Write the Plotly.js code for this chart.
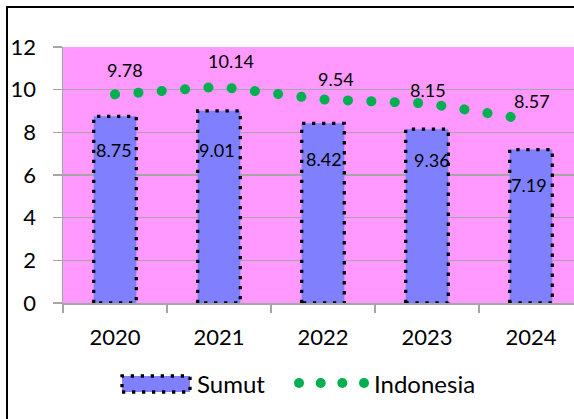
<!DOCTYPE html>
<html>
<head>
<meta charset="utf-8">
<script src="https://cdn.plot.ly/plotly-3.0.1.min.js"></script>
<style>
  html, body { margin: 0; padding: 0; overflow: hidden; background: #fff; }
  #chart { width: 574px; height: 419px; }
  /* Excel style dotted bar outline and round dots for the line */
  .bars .point path { stroke-dasharray: 3.3px 6.7px !important; }
  .scatterlayer .js-line { stroke-linecap: round !important; }
</style>
</head>
<body>
<div id="chart"></div>
<script>
const YEARS = ["2020", "2021", "2022", "2023", "2024"];
const SUMUT = [8.75, 9.01, 8.42, 8.15, 7.19];
const SUMUT_LABELS = ["8.75", "9.01", "8.42", "9.36", "7.19"];
const INDONESIA = [9.78, 10.14, 9.54, 9.36, 8.57];
const INDONESIA_LABELS = ["9.78", "10.14", "9.54", "8.15", "8.57"];
const Y_TICKS = [0, 2, 4, 6, 8, 10, 12];

const FONT = "Lato, 'Liberation Sans', sans-serif";
const BAR_BLUE = "#8080FF";
const GREEN = "#00B050";
const GRID = "#A6A6A6";

// plot area in pixels; the last category is cut by the right edge of the picture
const L = 63, T = 47, W = 511, H = 256;
const px = v => (v - L) / W;
const py = v => (T + H - v) / H;

// label nudges, as placed by hand in the original sheet
const SUMUT_SHIFT = [[-1, -34], [-2, -39], [1, -36], [5, -31], [-2, -35]];
const INDO_SHIFT = [[10, 24], [12, 26], [13, 20], [1, 13], [1, 19]];

const DATA = [
     {
          x: YEARS,
          y: SUMUT,
          type: "bar",
          name: "Sumut",
          width: 0.41,
          marker: {color: BAR_BLUE, line: {color: "#000", width: 3.3}},
          hoverinfo: "skip"
     },
     {
          x: YEARS,
          y: INDONESIA,
          type: "scatter",
          mode: "lines",
          name: "Indonesia",
          line: {color: GREEN, width: 10, dash: "0.1px,23.3px"},
          hoverinfo: "skip"
     }
];

const annotations = [];
YEARS.forEach((yr, i) => {
     // category axis: use the serial index, "2020" would be read as index 2020
     annotations.push({
          x: i, y: SUMUT[i], text: SUMUT_LABELS[i], showarrow: false,
          xshift: SUMUT_SHIFT[i][0], yshift: SUMUT_SHIFT[i][1],
          font: {family: FONT, size: 18, color: "#000"}
     });
     annotations.push({
          x: i, y: INDONESIA[i], text: INDONESIA_LABELS[i], showarrow: false,
          xshift: INDO_SHIFT[i][0], yshift: INDO_SHIFT[i][1],
          font: {family: FONT, size: 18, color: "#000"}
     });
});

// legend
annotations.push({
     xref: "paper", yref: "paper", x: px(195), y: py(383.5), xanchor: "left", yanchor: "middle",
     text: "Sumut", showarrow: false, font: {family: FONT, size: 24, color: "#000"}
});
annotations.push({
     xref: "paper", yref: "paper", x: px(372), y: py(383.5), xanchor: "left", yanchor: "middle",
     text: "Indonesia", showarrow: false, font: {family: FONT, size: 24, color: "#000"}
});

const shapes = [
     // chart frame, only the left and top edges are inside the picture
     {type: "line", xref: "paper", yref: "paper", x0: px(7), x1: px(7), y0: py(420), y1: py(7),
      line: {color: "#000", width: 2}},
     {type: "line", xref: "paper", yref: "paper", x0: px(6), x1: px(574), y0: py(7), y1: py(7),
      line: {color: "#000", width: 2}},
     // legend key for Sumut
     {type: "rect", xref: "paper", yref: "paper", x0: px(122), x1: px(190), y0: py(392), y1: py(376),
      fillcolor: BAR_BLUE, line: {color: "#000", width: 3.3, dash: "3.3px,6.7px"}}
];
[299, 320.7, 342.3, 364].forEach(cx => {
     shapes.push({type: "circle", xref: "paper", yref: "paper",
          x0: px(cx - 5), x1: px(cx + 5), y0: py(388), y1: py(378),
          fillcolor: GREEN, line: {width: 0}});
});

const LAYOUT = {
     width: 574,
     height: 419,
     margin: {l: L, r: 0, t: T, b: 419 - T - H},
     paper_bgcolor: "#fff",
     plot_bgcolor: "#FF99FF",
     showlegend: false,
     font: {family: FONT, size: 22, color: "#000"},
     xaxis: {
          type: "category",
          // 104 px per category, same as the original, right side cut off
          range: [-0.5, -0.5 + W / 104],
          showline: true, linecolor: GRID, linewidth: 1.5,
          ticks: "outside", tickson: "boundaries", ticklen: 8, tickcolor: GRID, tickwidth: 1.5,
          showgrid: false,
          tickangle: 0,
          ticklabelstandoff: 14,
          tickfont: {family: FONT, size: 22, color: "#000"}
     },
     yaxis: {
          range: [0, 12],
          tickvals: Y_TICKS,
          showline: true, linecolor: GRID, linewidth: 1.5,
          ticks: "outside", ticklen: 9, tickcolor: GRID, tickwidth: 1.5,
          showgrid: true, gridcolor: GRID, gridwidth: 1.5,
          zeroline: false,
          ticklabelstandoff: 12,
          tickfont: {family: FONT, size: 22, color: "#000"}
     },
     annotations: annotations,
     shapes: shapes
};

Plotly.newPlot("chart", DATA, LAYOUT, {staticPlot: true, displayModeBar: false});
</script>
</body>
</html>
